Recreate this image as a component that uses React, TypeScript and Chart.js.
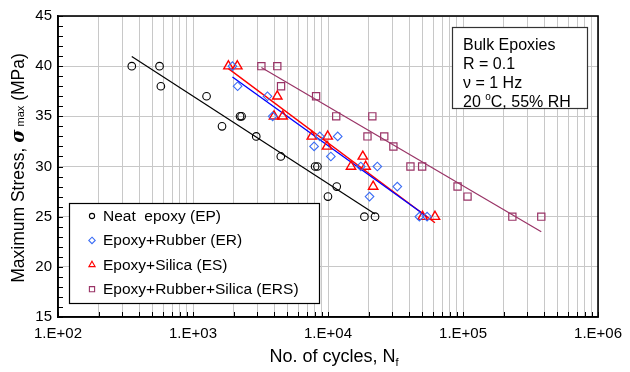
import React, { useEffect, useRef } from 'react';
import { Chart, registerables } from 'chart.js';

Chart.register(...registerables);

// ---------- data ----------
const decadeExponents = [2, 3, 4, 5, 6];
const stressLabelValues = [15, 20, 25, 30, 35, 40, 45];

const epCycles = [352, 565, 578, 1260, 1640, 2230, 2290, 2940, 4470, 8020, 8350, 11600, 9990, 18600, 22300];
const epStress = [40, 40, 38, 37, 34, 35, 35, 33, 31, 30, 30, 28, 27, 25, 25];

const erCycles = [1960, 2140, 3560, 3890, 8690, 11800, 7890, 10500, 17500, 23200, 32600, 20300, 47500, 54200];
const erStress = [40, 38, 37, 35, 33, 33, 32, 31, 30, 30, 28, 27, 25, 25];

const esCycles = [1830, 2130, 4210, 3980, 4620, 7590, 9950, 9830, 18100, 14800, 19000, 21600, 50200, 62000];
const esStress = [40, 40, 37, 35, 35, 33, 33, 32, 31, 30, 30, 28, 25, 25];

const ersCycles = [3210, 4210, 4490, 8160, 11500, 21300, 19600, 26100, 30500, 40800, 49800, 91100, 108000, 232000, 380000];
const ersStress = [40, 40, 38, 37, 35, 35, 33, 33, 32, 30, 30, 28, 27, 25, 25];

const seriesLabels = ['Neat  epoxy (EP)', 'Epoxy+Rubber (ER)', 'Epoxy+Silica (ES)', 'Epoxy+Rubber+Silica (ERS)'];
const infoLines = ['Bulk Epoxies', 'R = 0.1', 'ν = 1 Hz'];

// ---------- styles ----------
const FONT = '"Liberation Sans", Arial, Helvetica, sans-serif';
const GRID = '#c8c8c8';

type Style = { marker: string; color: string; lineColor: string; r: number; lr: number; bw: number; lw: number };
const styles: Style[] = [
  { marker: 'circle', color: '#000000', lineColor: '#000000', r: 3.8, lr: 2.6, bw: 1.1, lw: 1.2 },
  { marker: 'diamond', color: '#3a6cf5', lineColor: '#0000ff', r: 4.3, lr: 3.2, bw: 1.1, lw: 1.4 },
  { marker: 'triangle', color: '#ff0000', lineColor: '#ff0000', r: 5.4, lr: 3.6, bw: 1.4, lw: 1.4 },
  { marker: 'square', color: '#993366', lineColor: '#993366', r: 3.6, lr: 2.6, bw: 1.2, lw: 1.2 },
];
const chartPointStyle: Record<string, string> = { circle: 'circle', diamond: 'rectRot', triangle: 'triangle', square: 'rect' };

function fitLine(cycles: number[], stress: number[]) {
  const xs = cycles.map((c) => Math.log10(c));
  const n = xs.length;
  const mx = xs.reduce((a, b) => a + b, 0) / n;
  const my = stress.reduce((a, b) => a + b, 0) / n;
  let sxy = 0;
  let sxx = 0;
  xs.forEach((x, i) => {
    sxy += (x - mx) * (stress[i] - my);
    sxx += (x - mx) * (x - mx);
  });
  const b = sxy / sxx;
  const a = my - b * mx;
  const lo = Math.min(...cycles);
  const hi = Math.max(...cycles);
  return [
    { x: lo, y: a + b * Math.log10(lo) },
    { x: hi, y: a + b * Math.log10(hi) },
  ];
}

function drawMarker(ctx: CanvasRenderingContext2D, marker: string, x: number, y: number, r: number) {
  ctx.beginPath();
  if (marker === 'circle') {
    ctx.arc(x, y, r, 0, Math.PI * 2);
  } else if (marker === 'diamond') {
    ctx.moveTo(x, y - r);
    ctx.lineTo(x + r, y);
    ctx.lineTo(x, y + r);
    ctx.lineTo(x - r, y);
    ctx.closePath();
  } else if (marker === 'triangle') {
    const h = r * 1.5;
    const w = r * Math.sqrt(3);
    ctx.moveTo(x, y - r);
    ctx.lineTo(x + w / 2, y - r + h);
    ctx.lineTo(x - w / 2, y - r + h);
    ctx.closePath();
  } else {
    ctx.rect(x - r, y - r, 2 * r, 2 * r);
  }
  ctx.stroke();
}

type Seg = { t: string; f: string; dy?: number };
function drawRich(ctx: CanvasRenderingContext2D, segs: Seg[], cx: number, cy: number) {
  let total = 0;
  segs.forEach((s) => {
    ctx.font = s.f;
    total += ctx.measureText(s.t).width;
  });
  let x = cx - total / 2;
  segs.forEach((s) => {
    ctx.font = s.f;
    ctx.fillText(s.t, x, cy + (s.dy || 0));
    x += ctx.measureText(s.t).width;
  });
}

const decorPlugin = {
  id: 'decor',
  afterDraw(chart: any) {
    const ctx: CanvasRenderingContext2D = chart.ctx;
    const { left, right, top, bottom } = chart.chartArea;
    const xs = chart.scales.x;
    const ys = chart.scales.y;
    ctx.save();
    // inside ticks
    ctx.strokeStyle = '#000';
    ctx.lineWidth = 1;
    for (let v = ys.min; v <= ys.max; v += 1) {
      const py = Math.round(ys.getPixelForValue(v)) + 0.5;
      ctx.beginPath();
      ctx.moveTo(left, py);
      ctx.lineTo(left + 5, py);
      ctx.stroke();
    }
    xs.ticks.forEach((t: any) => {
      const px = Math.round(xs.getPixelForValue(t.value)) + 0.5;
      ctx.beginPath();
      ctx.moveTo(px, bottom);
      ctx.lineTo(px, bottom - 5);
      ctx.stroke();
    });
    // frame
    ctx.lineWidth = 1.6;
    ctx.strokeRect(left, top, right - left, bottom - top);

    // info box
    ctx.fillStyle = '#fff';
    ctx.fillRect(452, 27, 135, 81);
    ctx.strokeStyle = '#333';
    ctx.lineWidth = 1.2;
    ctx.strokeRect(452.5, 27.5, 135, 81);
    ctx.fillStyle = '#000';
    ctx.textBaseline = 'alphabetic';
    ctx.textAlign = 'left';
    ctx.font = `16px ${FONT}`;
    infoLines.forEach((l, i) => ctx.fillText(l, 463, 50 + i * 19));
    let x0 = 463;
    const by = 50 + 3 * 19;
    ctx.fillText('20 ', x0, by);
    x0 += ctx.measureText('20 ').width;
    ctx.font = `10px ${FONT}`;
    ctx.fillText('o', x0, by - 7);
    x0 += ctx.measureText('o').width;
    ctx.font = `16px ${FONT}`;
    ctx.fillText('C, 55% RH', x0, by);

    // legend box
    ctx.fillStyle = '#fff';
    ctx.fillRect(69, 203, 250, 100);
    ctx.strokeStyle = '#000';
    ctx.lineWidth = 1.2;
    ctx.strokeRect(69.5, 203.5, 250, 100);
    seriesLabels.forEach((lab, i) => {
      const cy = 216 + i * 24.4;
      const st = styles[i];
      ctx.strokeStyle = st.color;
      ctx.lineWidth = 1.1;
      drawMarker(ctx, st.marker, 92, cy, st.lr);
      ctx.fillStyle = '#000';
      ctx.font = `15.5px ${FONT}`;
      ctx.textBaseline = 'middle';
      ctx.fillText(lab, 103, cy + 0.5);
    });

    // axis titles
    ctx.fillStyle = '#000';
    ctx.textBaseline = 'alphabetic';
    drawRich(ctx, [
      { t: 'No. of cycles, N', f: `18px ${FONT}` },
      { t: 'f', f: `11px ${FONT}`, dy: 4 },
    ], 334, 362);

    ctx.save();
    ctx.translate(24, 168);
    ctx.rotate(-Math.PI / 2);
    drawRich(ctx, [
      { t: 'Maximum Stress, ', f: `17.5px ${FONT}` },
      { t: 'σ', f: `bold italic 18px "DejaVu Serif", serif` },
      { t: ' max', f: `11px ${FONT}`, dy: 0 },
      { t: ' (MPa)', f: `17.5px ${FONT}` },
    ], 0, 0);
    ctx.restore();
    ctx.restore();
  },
};

export default function App() {
  const ref = useRef<HTMLCanvasElement>(null);
  useEffect(() => {
    if (!ref.current) return;
    const allCycles = [epCycles, erCycles, esCycles, ersCycles];
    const allStress = [epStress, erStress, esStress, ersStress];
    const pointSets = allCycles.map((c, i) => ({
      type: 'scatter' as const,
      label: seriesLabels[i],
      data: c.map((x, j) => ({ x, y: allStress[i][j] })),
      pointStyle: chartPointStyle[styles[i].marker],
      pointRadius: styles[i].r * (styles[i].marker === 'square' ? 1.414 : 1),
      pointBorderColor: styles[i].color,
      pointBackgroundColor: 'rgba(0,0,0,0)',
      pointBorderWidth: styles[i].bw,
      showLine: false,
    }));
    const lineSets = allCycles.map((c, i) => ({
      type: 'line' as const,
      label: seriesLabels[i] + ' fit',
      data: fitLine(c, allStress[i]),
      borderColor: styles[i].lineColor,
      borderWidth: styles[i].lw,
      pointRadius: 0,
      fill: false,
    }));
    const xTickValues: number[] = [];
    decadeExponents.forEach((e, k) => {
      const base = Math.pow(10, e);
      if (k === decadeExponents.length - 1) {
        xTickValues.push(base);
      } else {
        for (let m = 1; m <= 9; m++) xTickValues.push(m * base);
      }
    });
    const yMin = stressLabelValues[0];
    const yMax = stressLabelValues[stressLabelValues.length - 1];

    const chart = new Chart(ref.current, {
      type: 'scatter',
      data: { datasets: [...pointSets, ...lineSets] as any },
      options: {
        responsive: false,
        animation: false,
        events: [],
        layout: { padding: { top: 16, right: 28, left: 0, bottom: 0 } },
        plugins: { legend: { display: false }, tooltip: { enabled: false }, title: { display: false } },
        scales: {
          x: {
            type: 'logarithmic',
            min: Math.pow(10, decadeExponents[0]),
            max: Math.pow(10, decadeExponents[decadeExponents.length - 1]),
            afterBuildTicks: (s: any) => {
              s.ticks = xTickValues.map((v) => ({ value: v }));
            },
            afterFit: (s: any) => {
              s.height = 55;
            },
            ticks: {
              autoSkip: false,
              maxRotation: 0,
              minRotation: 0,
              padding: 8,
              color: '#000',
              font: { family: FONT, size: 15 },
              callback: (v: any) => {
                const lg = Math.log10(Number(v));
                if (Math.abs(lg - Math.round(lg)) < 1e-9) {
                  const e = Math.round(lg);
                  return `1.E+${e < 10 ? '0' : ''}${e}`;
                }
                return '';
              },
            },
            grid: { color: GRID, lineWidth: 1, drawTicks: false },
            border: { display: true, color: '#000', width: 1.6 },
          },
          y: {
            type: 'linear',
            min: yMin,
            max: yMax,
            afterBuildTicks: (s: any) => {
              const t = [];
              for (let v = yMin; v <= yMax; v++) t.push({ value: v });
              s.ticks = t;
            },
            afterFit: (s: any) => {
              s.width = 58;
            },
            ticks: {
              autoSkip: false,
              padding: 6,
              color: '#000',
              font: { family: FONT, size: 15 },
              callback: (v: any) => (stressLabelValues.includes(Number(v)) ? String(v) : ''),
            },
            grid: {
              color: (c: any) => (c.tick && stressLabelValues.includes(c.tick.value) ? GRID : 'rgba(0,0,0,0)'),
              lineWidth: 1,
              drawTicks: false,
            },
            border: { display: true, color: '#000', width: 1.6 },
          },
        },
      },
      plugins: [decorPlugin],
    });
    return () => chart.destroy();
  }, []);
  return (
    <div style={{ position: 'fixed', left: 0, top: 0, width: 630, height: 372, background: '#fff' }}>
      <canvas ref={ref} width={630} height={372} style={{ display: 'block' }} />
    </div>
  );
}
